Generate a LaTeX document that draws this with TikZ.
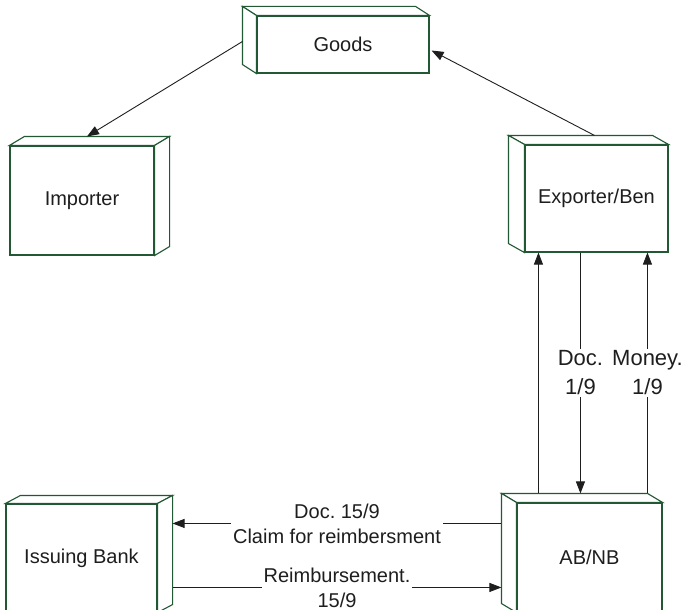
\documentclass[tikz,border=0pt]{standalone}
\usepackage{fontspec}
\setmainfont{Liberation Sans}
\usetikzlibrary{calc,arrows.meta}
\definecolor{boxgreen}{RGB}{34,88,52}
\definecolor{inkgray}{RGB}{30,30,30}
\frenchspacing
\tikzset{
  x=1pt, y=-1pt,
  face/.style={draw=boxgreen, line width=1.1pt, fill=white, inner sep=0pt,
    font=\fontsize{20}{24}\selectfont, text=inkgray},
  side/.style={draw=boxgreen, line width=1.1pt, fill=white, line join=miter},
  flow/.style={draw=inkgray, line width=0.9pt, -{Triangle[length=12pt,width=9pt]}},
  lbl/.style={fill=white, inner sep=2pt, align=center, text=inkgray},
  lblbig/.style={lbl, font=\fontsize{22}{29}\selectfont},
  lblsmall/.style={lbl, font=\fontsize{20}{25}\selectfont},
}
% 3D box: front face node plus top and side faces offset by (dx,dy)
\newcommand{\boxsides}[3]{%
  \draw[side] (#1.north west) -- ++(#2,#3) -- ($(#1.north east)+(#2,#3)$) -- (#1.north east) -- cycle;
  \ifdim #2pt<0pt
    \draw[side] (#1.north west) -- ++(#2,#3) -- ($(#1.south west)+(#2,#3)$) -- (#1.south west) -- cycle;
  \else
    \draw[side] (#1.north east) -- ++(#2,#3) -- ($(#1.south east)+(#2,#3)$) -- (#1.south east) -- cycle;
  \fi
}
\begin{document}
\begin{tikzpicture}
\useasboundingbox (0,0) rectangle (686,610);

% front faces
\node[face, minimum width=172pt, minimum height=57pt] (goods) at (343,44.5) {Goods};
\node[face, minimum width=144pt, minimum height=109pt] (imp) at (82,200.5) {Importer};
\node[face, minimum width=143pt, minimum height=107pt] (exp) at (596.5,198.5) {Exporter/Ben};
\node[face, minimum width=151pt, minimum height=108pt] (ib) at (81.5,558) {Issuing Bank};
\node[face, minimum width=145pt, minimum height=109pt] (ab) at (589.5,557.5) {AB/NB};

% depth faces
\boxsides{goods}{-14}{-9}
\boxsides{imp}{15}{-9}
\boxsides{exp}{-16}{-9}
\boxsides{ib}{15}{-8}
\boxsides{ab}{-15}{-9}

% goods flow
\draw[flow] ($(goods.west)+(-14,-3)$) -- ($(imp.north)+(5,-9)$);
\draw[flow] ($(exp.north)+(-2,-9)$) -- ($(goods.east)+(2,6)$);

% exporter <-> advising bank
\coordinate (abL) at ($(ab.north west)+(22,-9)$);
\coordinate (abM) at ($(ab.north west)+(64,-9)$);
\coordinate (abR) at ($(ab.north west)+(131,-9)$);
\draw[flow] (abL) -- (abL |- exp.south);
\draw[flow] (abM |- exp.south) -- node[lblbig] {Doc.\\1/9} (abM);
\draw[flow] (abR) -- node[lblbig] {Money.\\1/9} (abR |- exp.south);

% advising bank <-> issuing bank
\draw[flow] ($(ab.north west)+(-15,21)$) -- node[lblsmall] {Doc. 15/9\\Claim for reimbersment} ($(ib.north east)+(15,20)$);
\draw[flow] ($(ib.north east)+(15,84)$) -- node[lblsmall] {Reimbursement.\\15/9} ($(ab.north west)+(-15,85)$);
\end{tikzpicture}
\end{document}
